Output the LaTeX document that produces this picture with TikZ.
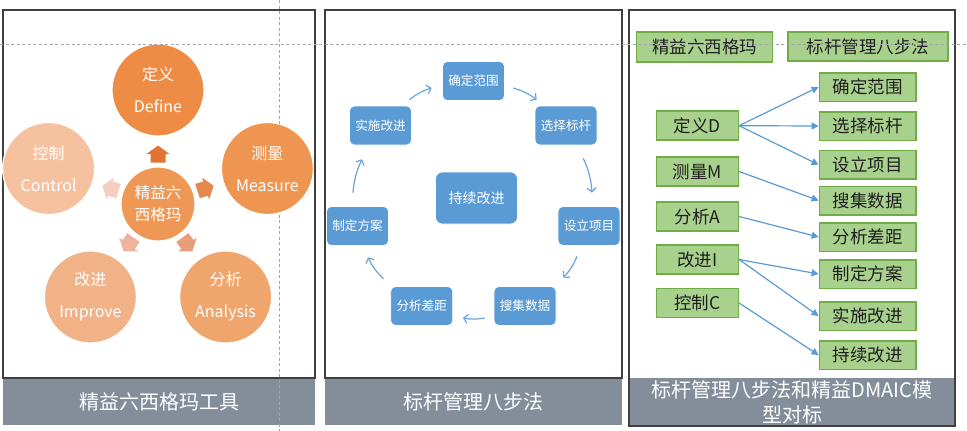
\documentclass[tikz,border=0pt]{standalone}
\usepackage{fontspec}
\setmainfont{Noto Sans CJK SC}
\usetikzlibrary{arrows.meta}
\definecolor{frameC}{HTML}{404040}
\definecolor{bandC}{HTML}{848E9B}
\definecolor{cDef}{HTML}{EE8C45}
\definecolor{cMea}{HTML}{EF9552}
\definecolor{cAna}{HTML}{F0A56D}
\definecolor{cImp}{HTML}{F2B287}
\definecolor{cCon}{HTML}{F5C19E}
\definecolor{cCen}{HTML}{EF9856}
\definecolor{aTop}{HTML}{E17430}
\definecolor{aRig}{HTML}{E4884F}
\definecolor{aBR}{HTML}{E99D7A}
\definecolor{aBL}{HTML}{EEB29D}
\definecolor{aLef}{HTML}{F4CEC3}
\definecolor{blueC}{HTML}{5B9BD5}
\definecolor{blueA}{HTML}{6BA3DA}
\definecolor{gFill}{HTML}{A9D18E}
\definecolor{gBord}{HTML}{70AD47}
\definecolor{guideC}{HTML}{A6A6A6}
\newcommand\pentarrow[4]{%
  \begin{scope}[shift={(#1,#2)},rotate=#3]
    \fill[#4] (-8.5,-7.5) -- (0,-7.5) -- (0,-11.5) -- (8.5,0) -- (0,11.5) -- (0,7.5) -- (-8.5,7.5) -- cycle;
  \end{scope}}
\begin{document}
\begin{tikzpicture}[x=1pt,y=-1pt,
  frame/.style={draw=frameC,line width=1.5pt},
  band/.style={fill=bandC,text=white,inner sep=0pt,font=\fontsize{20}{25}\selectfont,align=center},
  bigcirc/.style={circle,draw=white,line width=1.2pt,minimum size=92pt,inner sep=0pt,text=white,
    font=\fontsize{16}{32}\selectfont,align=center},
  bluebox/.style={rounded corners=5pt,draw=white,line width=0.6pt,fill=blueC,text=white,
    minimum width=62pt,minimum height=39pt,inner sep=0pt,font=\fontsize{12.6}{15}\selectfont},
  flow/.style={draw=blueA,line width=1.2pt,-{Straight Barb[length=4pt,width=9pt]},bend left=10},
  gbox/.style={draw=gBord,fill=gFill,line width=1.5pt,inner sep=0pt,text=black!88,
    font=\fontsize{17.5}{20}\selectfont,minimum height=29pt},
  lbox/.style={gbox,minimum width=81.6pt},
  rbox/.style={gbox,minimum width=96.7pt,minimum height=28.5pt},
  garrow/.style={draw=blueC,line width=1.2pt,-{Triangle[length=7pt,width=7pt]}},
  guide/.style={draw=guideC,line width=0.9pt,dash pattern=on 3pt off 2.5pt}]
\useasboundingbox (0,0) rectangle (967,431);
\fill[white] (0,0) rectangle (967,431);

% ---------- panel 1 ----------
\node[band,minimum width=312pt,minimum height=47pt] (band1) at (159,401.5) {精益六西格玛工具};
\draw[frame] (3,10) rectangle (315,378);
\node[bigcirc,fill=cDef] (def) at (158,90) {定义\\Define};
\node[bigcirc,fill=cMea] (mea) at (267.4,168.5) {测量\\Measure};
\node[bigcirc,fill=cAna] (ana) at (225.6,297) {分析\\Analysis};
\node[bigcirc,fill=cImp] (imp) at (90.4,297) {改进\\Improve};
\node[bigcirc,fill=cCon] (con) at (48.6,168.5) {控制\\Control};
\node[circle,draw=white,line width=1.2pt,fill=cCen,minimum size=74pt,inner sep=0pt,text=white,
  font=\fontsize{15.5}{22}\selectfont,align=center] (cen) at (158,204) {精益六\\西格玛};
\pentarrow{158}{154}{90}{aTop}
\pentarrow{205.6}{188.5}{18}{aRig}
\pentarrow{187.4}{244.5}{-54}{aBR}
\pentarrow{128.6}{244.5}{-126}{aBL}
\pentarrow{110.4}{188.5}{162}{aLef}

% ---------- panel 2 ----------
\node[band,minimum width=297pt,minimum height=47pt] (band2) at (473.5,401.5) {标杆管理八步法};
\draw[frame] (325,10) rectangle (622,378);
\node[bluebox] (sA) at (473.5,81) {确定范围};
\node[bluebox] (sB) at (566,125.5) {选择标杆};
\node[bluebox] (sC) at (589,226) {设立项目};
\node[bluebox] (sD) at (525,306) {搜集数据};
\node[bluebox] (sE) at (421.7,306) {分析差距};
\node[bluebox] (sF) at (357.5,226) {制定方案};
\node[bluebox] (sG) at (380.5,125.5) {实施改进};
\node[bluebox,minimum width=82pt,minimum height=52pt,rounded corners=7pt,
  font=\fontsize{14}{16}\selectfont] (sH) at (476.5,198) {持续改进};
\draw[flow] ([shift={(8.5,7)}]sA.east) to ([shift={(2,-6)}]sB.north west);
\draw[flow] ([shift={(-14,13)}]sB.south east) to ([shift={(3,-13.5)}]sC.north);
\draw[flow] ([shift={(-12,10.5)}]sC.south) to ([shift={(7,-8.5)}]sD.north east);
\draw[flow] ([shift={(-9,12)}]sD.west) to ([shift={(10,12)}]sE.east);
\draw[flow] ([shift={(-7,-7.5)}]sE.north west) to ([shift={(10.5,11.5)}]sF.south);
\draw[flow] ([shift={(-4.5,-13.5)}]sF.north) to ([shift={(-18.5,14)}]sG.south);
\draw[flow] ([shift={(-2.5,-6)}]sG.north east) to ([shift={(-10.5,7)}]sA.west);

% ---------- panel 3 ----------
\node[band,minimum width=326pt,minimum height=48pt] (band3) at (792,402) {标杆管理八步法和精益DMAIC模\\型对标};
\draw[frame] (629,10) rectangle (955,426);
\node[gbox,minimum width=136pt,minimum height=30pt] (h1) at (704.7,47) {精益六西格玛};
\node[gbox,minimum width=160pt] (h2) at (868,46.5) {标杆管理八步法};
\node[lbox] (lD) at (697.5,125.7) {定义D};
\node[lbox] (lM) at (697.5,171.5) {测量M};
\node[lbox] (lA) at (697.5,216.5) {分析A};
\node[lbox] (lI) at (697.5,259.5) {改进I};
\node[lbox] (lC) at (697.5,303) {控制C};
\node[rbox] (r1) at (867.7,87) {确定范围};
\node[rbox] (r2) at (867.7,126) {选择标杆};
\node[rbox] (r3) at (867.7,164.7) {设立项目};
\node[rbox] (r4) at (867.7,200.5) {搜集数据};
\node[rbox] (r5) at (867.7,237) {分析差距};
\node[rbox] (r6) at (867.7,274) {制定方案};
\node[rbox] (r7) at (867.7,316) {实施改进};
\node[rbox] (r8) at (867.7,355) {持续改进};
\draw[garrow] (lD.east) -- (r1.west);
\draw[garrow] (lD.east) -- (r2.west);
\draw[garrow] (lD.east) -- (r3.west);
\draw[garrow] (lM.east) -- (r4.west);
\draw[garrow] (lA.east) -- (r5.west);
\draw[garrow] (lI.east) -- (r6.west);
\draw[garrow] (lI.east) -- (r7.west);
\draw[garrow] (lC.east) -- (r8.west);

% ---------- guides ----------
\draw[guide] (0,44) -- (967,44);
\draw[guide] (279,0) -- (279,431);
\end{tikzpicture}
\end{document}
